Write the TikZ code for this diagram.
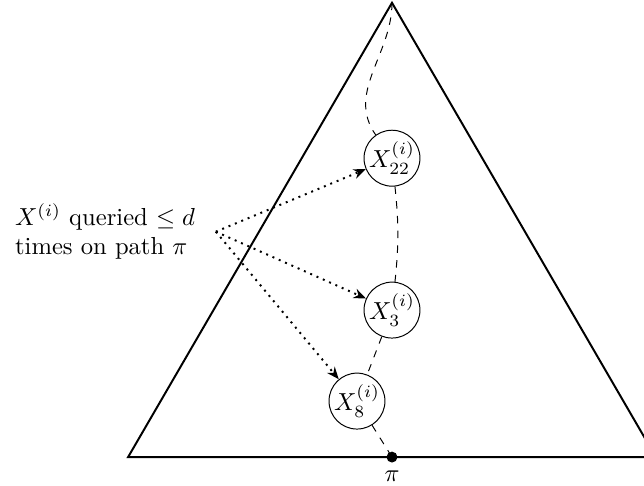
\documentclass[tikz,border=0pt]{standalone}
\usetikzlibrary{arrows.meta,positioning}

\begin{document}
\begin{tikzpicture}[
    vertex/.style={draw, circle, fill=white, inner sep=0pt, minimum size=21pt},
    query/.style={thick, dotted, -{Stealth[length=5pt, width=4pt]}},
    ]
    \useasboundingbox (-5.6,-0.4) rectangle (3.6,6.53);

    \coordinate (top) at (0,6.49);
    \coordinate (left) at (-3.77,0);
    \coordinate (right) at (3.77,0);
    \coordinate (pi) at (0,0);

    \draw [thick]
        (left) -- (top) -- (right) -- cycle
        ;

    \node [vertex] (x22) at (0,4.27) {$X_{22}^{(i)}$};
    \node [vertex] (x3) at (0,2.1) {$X_{3}^{(i)}$};
    \node [vertex] (x8) at (-0.5,0.8) {$X_{8}^{(i)}$};

    \draw [dashed]
        (top) to [out=-90, in=125] (x22)
        (x22) to [bend left=6] (x3)
        (x3) -- (x8)
        (x8) -- (pi)
        ;

    \draw [fill]
        (pi) circle (2pt)
            node [below=2pt] {$\pi$}
        ;

    \node [align=left] (lbl) at (-4.1,3.22)
        {$X^{(i)}$ queried $\leq d$\\ times on path $\pi$};
    \coordinate (src) at ([xshift=5pt]lbl.east);

    \draw [query]
        (src) -- (x22)
        ;
    \draw [query]
        (src) -- (x3)
        ;
    \draw [query]
        (src) -- (x8)
        ;
\end{tikzpicture}
\end{document}
